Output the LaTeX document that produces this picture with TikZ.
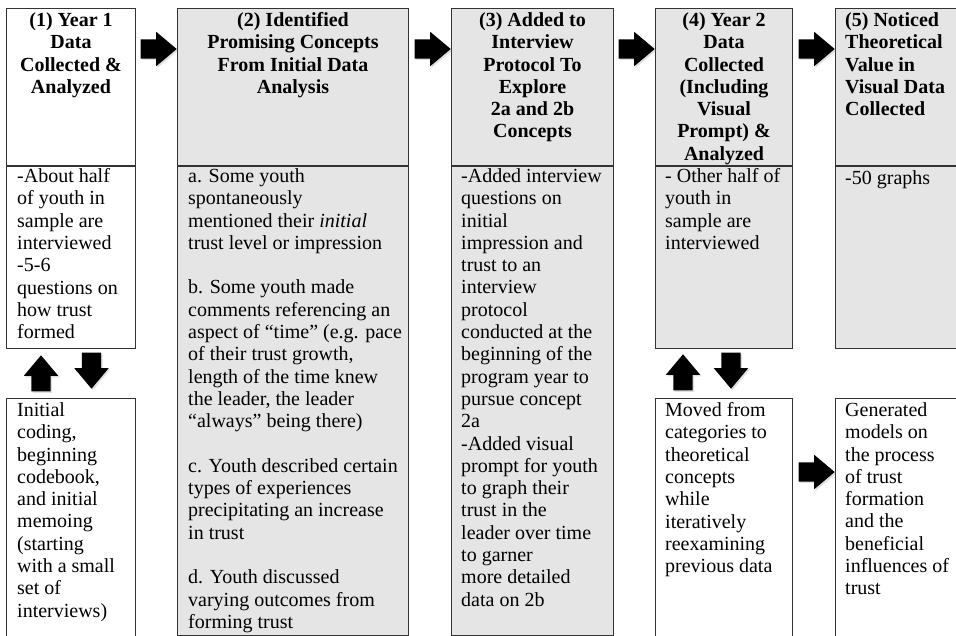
\documentclass[tikz,border=0pt]{standalone}
\usepackage{fontspec}
\setmainfont{Liberation Serif}
\usetikzlibrary{positioning,shapes.arrows,shadows}

\begin{document}
\begin{tikzpicture}[
    x=1pt, y=-1pt,
    panel/.style={rectangle, draw=black!80, line width=1pt, inner sep=0pt, anchor=north west},
    headbox/.style={panel, fill=black!10, minimum height=157pt},
    plainbox/.style={panel, fill=white},
    headtext/.style={font=\bfseries\fontsize{20}{22.3}\selectfont, align=center,
        inner sep=0pt, anchor=north, execute at begin node=\strut},
    bodytext/.style={font=\fontsize{20}{22.3}\selectfont, align=left,
        inner sep=0pt, anchor=north west, execute at begin node=\strut},
    blockarrow/.style={single arrow, fill=black, draw=none, inner sep=9.5pt,
        minimum height=36pt, minimum width=34pt, single arrow head extend=7.5pt,
        single arrow tip angle=80, anchor=tip,
        drop shadow={opacity=0.25, shadow xshift=1.5pt, shadow yshift=-1.5pt}},
    uparrow/.style={blockarrow, shape border rotate=90},
    downarrow/.style={blockarrow, shape border rotate=270}
]
\useasboundingbox (0,0) rectangle (956,635);

\node (Head01) [headbox, fill=white, minimum width=129pt] at (6,8) {};
\node (Body01) [plainbox, below=0pt of Head01, minimum width=129pt, minimum height=182pt] {};
\node (Lower01) [plainbox, below=49pt of Body01, minimum width=129pt, minimum height=238pt] {};

\node (Head02) [headbox, minimum width=231pt] at (177,8) {};
\node (Body02) [headbox, below=0pt of Head02, minimum width=231pt, minimum height=469pt] {};

\node (Head03) [headbox, minimum width=162pt] at (451,8) {};
\node (Body03) [headbox, below=0pt of Head03, minimum width=162pt, minimum height=469pt] {};

\node (Head04) [headbox, minimum width=137pt] at (655,8) {};
\node (Body04) [headbox, below=0pt of Head04, minimum width=137pt, minimum height=182pt] {};
\node (Lower04) [plainbox, below=49pt of Body04, minimum width=137pt, minimum height=238pt] {};

\node (Head05) [headbox, minimum width=140pt] at (835,8) {};
\node (Body05) [headbox, below=0pt of Head05, minimum width=140pt, minimum height=182pt] {};
\node (Lower05) [plainbox, below=49pt of Body05, minimum width=140pt, minimum height=238pt] {};

\node (HeadText01) [headtext] at ([yshift=-4.4pt]Head01.north)
    {(1) Year 1\\Data\\Collected \&\\Analyzed};
\node (HeadText02) [headtext] at ([yshift=-4.4pt]Head02.north)
    {(2) Identified\\Promising Concepts\\From Initial Data\\Analysis};
\node (HeadText03) [headtext] at ([yshift=-4.4pt]Head03.north)
    {(3) Added to\\Interview\\Protocol To\\Explore\\2a and 2b\\Concepts};
\node (HeadText04) [headtext] at ([yshift=-4.4pt]Head04.north)
    {(4) Year 2\\Data\\Collected\\(Including\\Visual\\Prompt) \&\\Analyzed};
\node (HeadText05) [headtext, align=left, anchor=north west] at ([xshift=10pt,yshift=-4.4pt]Head05.north west)
    {(5) Noticed\\Theoretical\\Value in\\Visual Data\\Collected};

\node (BodyText01) [bodytext] at ([xshift=11pt,yshift=-2.4pt]Body01.north west)
    {-About half\\of youth in\\sample are\\interviewed\\-5-6\\questions on\\how trust\\formed};
\node (BodyText02) [bodytext] at ([xshift=11pt,yshift=-2.4pt]Body02.north west)
    {a. Some youth\\spontaneously\\mentioned their \textit{initial}\\trust level or impression\\[22.3pt]
     b. Some youth made\\comments referencing an\\aspect of “time” (e.g. pace\\of their trust growth,\\length of the time knew\\the leader, the leader\\“always” being there)\\[22.3pt]
     c. Youth described certain\\types of experiences\\precipitating an increase\\in trust\\[22.3pt]
     d. Youth discussed\\varying outcomes from\\forming trust};
\node (BodyText03) [bodytext] at ([xshift=10pt,yshift=-2.4pt]Body03.north west)
    {-Added interview\\questions on\\initial\\impression and\\trust to an\\interview\\protocol\\conducted at the\\beginning of the\\program year to\\pursue concept\\2a\\-Added visual\\prompt for youth\\to graph their\\trust in the\\leader over time\\to garner\\more detailed\\data on 2b};
\node (BodyText04) [bodytext] at ([xshift=10pt,yshift=-2.4pt]Body04.north west)
    {- Other half of\\youth in\\sample are\\interviewed};
\node (BodyText05) [bodytext] at ([xshift=10pt,yshift=-2.4pt]Body05.north west)
    {-50 graphs};

\node (LowerText01) [bodytext] at ([xshift=11pt,yshift=-4.4pt]Lower01.north west)
    {Initial\\coding,\\beginning\\codebook,\\and initial\\memoing\\(starting\\with a small\\set of\\interviews)};
\node (LowerText04) [bodytext] at ([xshift=10pt,yshift=-4.4pt]Lower04.north west)
    {Moved from\\categories to\\theoretical\\concepts\\while\\iteratively\\reexamining\\previous data};
\node (LowerText05) [bodytext] at ([xshift=10pt,yshift=-4.4pt]Lower05.north west)
    {Generated\\models on\\the process\\of trust\\formation\\and the\\beneficial\\influences of\\trust};

\node (Arrow12) [blockarrow] at ([yshift=-41pt]Head02.north west) {};
\node (Arrow23) [blockarrow] at ([yshift=-41pt]Head03.north west) {};
\node (Arrow34) [blockarrow] at ([yshift=-41pt]Head04.north west) {};
\node (Arrow45) [blockarrow] at ([yshift=-41pt]Head05.north west) {};
\node (ArrowLow45) [blockarrow] at ([yshift=-74pt]Lower05.north west) {};

\node (ArrowUp01) [uparrow] at ([xshift=35pt,yshift=-6pt]Body01.south west) {};
\node (ArrowDown01) [downarrow] at ([xshift=85.5pt,yshift=9pt]Lower01.north west) {};
\node (ArrowUp04) [uparrow] at ([xshift=28pt,yshift=-5pt]Body04.south west) {};
\node (ArrowDown04) [downarrow] at ([xshift=76pt,yshift=9pt]Lower04.north west) {};
\end{tikzpicture}
\end{document}
